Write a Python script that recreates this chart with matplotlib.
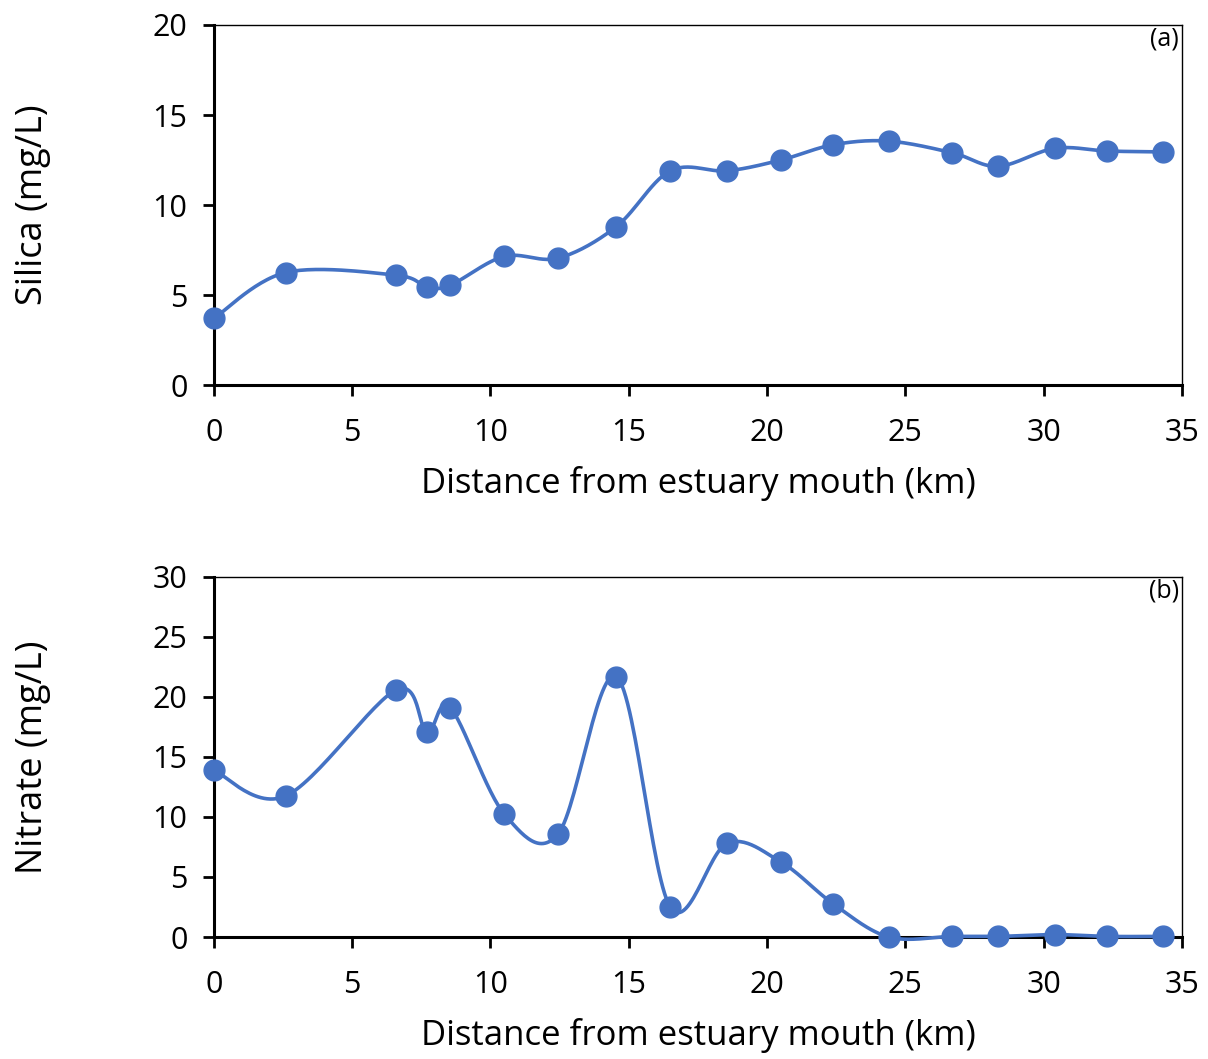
import numpy as np
import matplotlib.pyplot as plt

# distances (km) of sampling stations
distance = [0, 2.6, 6.6, 7.7, 8.55, 10.5, 12.45, 14.55, 16.5, 18.55, 20.5, 22.4,
            24.4, 26.7, 28.35, 30.4, 32.3, 34.3]
silica = [3.7, 6.25, 6.1, 5.45, 5.55, 7.15, 7.05, 8.8, 11.9, 11.9, 12.5, 13.35,
          13.55, 12.9, 12.15, 13.15, 13.0, 12.95]
nitrate = [13.9, 11.75, 20.6, 17.1, 19.1, 10.25, 8.6, 21.7, 2.5, 7.8, 6.25, 2.75,
           0.0, 0.05, 0.05, 0.2, 0.05, 0.05]

BLUE = "#4472C4"
plt.rcParams['font.family'] = ['Open Sans', 'DejaVu Sans']


def smooth(x, y, n=30):
    # Excel-style smoothed line (Catmull-Rom / cubic Bezier segments)
    x = np.asarray(x, float)
    y = np.asarray(y, float)
    px = np.concatenate([[x[0]], x, [x[-1]]])
    py = np.concatenate([[y[0]], y, [y[-1]]])
    xs, ys = [], []
    t = np.linspace(0, 1, n)
    for i in range(len(x) - 1):
        p0 = np.array([px[i + 1], py[i + 1]])
        p3 = np.array([px[i + 2], py[i + 2]])
        p1 = p0 + (p3 - np.array([px[i], py[i]])) / 6
        p2 = p3 - (np.array([px[i + 3], py[i + 3]]) - p0) / 6
        b = (np.outer((1 - t) ** 3, p0) + np.outer(3 * (1 - t) ** 2 * t, p1)
             + np.outer(3 * (1 - t) * t ** 2, p2) + np.outer(t ** 3, p3))
        xs.extend(b[:, 0])
        ys.extend(b[:, 1])
    return xs, ys


fig = plt.figure(figsize=(12.08, 10.59), dpi=100)
ax1 = fig.add_axes([0.177, 0.6364, 0.8015, 0.34])
ax2 = fig.add_axes([0.177, 0.1152, 0.8015, 0.34])

panels = [
    (ax1, silica, 20, 5, "Silica (mg/L)", "(a)"),
    (ax2, nitrate, 30, 5, "Nitrate (mg/L)", "(b)"),
]

for ax, vals, ymax, step, ylabel, tag in panels:
    sx, sy = smooth(distance, vals)
    ax.plot(sx, sy, color=BLUE, lw=2.6, zorder=3, clip_on=False)
    ax.plot(distance, vals, 'o', color=BLUE, ms=15, zorder=4, clip_on=False)
    ax.set_xlim(0, 35)
    ax.set_ylim(0, ymax)
    ax.set_xticks(range(0, 36, 5))
    ax.set_yticks(range(0, ymax + 1, step))
    for s in ['left', 'bottom']:
        ax.spines[s].set_linewidth(2.2)
    for s in ['top', 'right']:
        ax.spines[s].set_linewidth(1.0)
    ax.tick_params(axis='both', direction='out', length=8, width=2,
                   labelsize=22, top=False, right=False)
    ax.tick_params(axis='x', pad=16)
    ax.tick_params(axis='y', pad=11)
    ax.set_xlabel("Distance from estuary mouth (km)", fontsize=25)
    ax.set_ylabel(ylabel, fontsize=26)
    ax.xaxis.set_label_coords(0.5, -0.225)
    ax.yaxis.set_label_coords(-0.168, 0.5)
    ax.text(0.997, 0.997, tag, transform=ax.transAxes, ha='right', va='top',
            fontsize=18)

fig.savefig("out.png", dpi=100)
